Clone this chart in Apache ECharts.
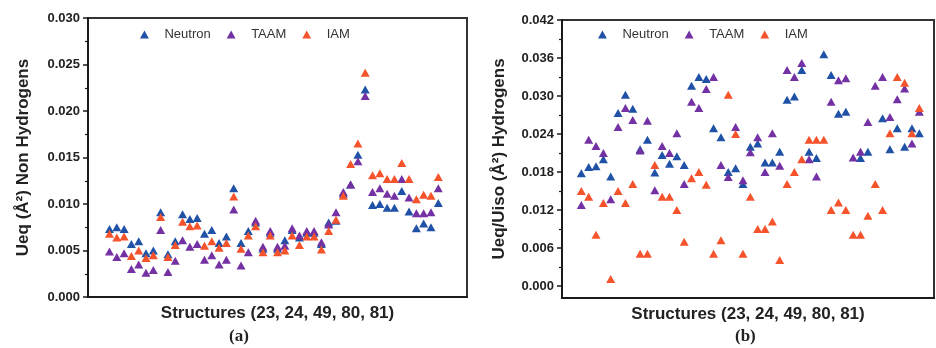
<!DOCTYPE html>
<html><head><meta charset="utf-8">
<script src="https://cdn.jsdelivr.net/npm/echarts@6/dist/echarts.min.js"></script>
<style>html,body{margin:0;padding:0;background:#fff}#c{width:936px;height:348px}</style>
</head><body><div id="c"></div>
<script>
// ---------- Panel (a): Non-hydrogen atoms ----------
const structuresA = [1,2,3,4,5,6,7,8,9,10,11,12,13,14,15,16,17,18,19,20,21,22,23,24,25,26,27,28,29,30,31,32,33,34,35,36,37,38,39,40,41,42,43,44,45,46];
const neutronA = [0.0073,0.0075,0.0073,0.0057,0.0060,0.0047,0.0050,0.0091,0.0046,0.0060,0.0089,0.0084,0.0085,0.0068,0.0072,0.0058,0.0065,0.0117,0.0058,0.0071,0.0080,0.0052,0.0069,0.0052,0.0061,0.0072,0.0064,0.0069,0.0069,0.0057,0.0080,0.0082,0.0111,0.0121,0.0153,0.0223,0.0099,0.0100,0.0096,0.0096,0.0114,0.0092,0.0074,0.0079,0.0075,0.0101];
const taamA = [0.0049,0.0043,0.0047,0.0030,0.0035,0.0026,0.0029,0.0072,0.0027,0.0039,0.0061,0.0054,0.0057,0.0040,0.0045,0.0035,0.0040,0.0094,0.0034,0.0048,0.0082,0.0054,0.0071,0.0054,0.0055,0.0074,0.0066,0.0071,0.0071,0.0059,0.0078,0.0091,0.0113,0.0121,0.0146,0.0216,0.0113,0.0117,0.0111,0.0109,0.0127,0.0107,0.0090,0.0090,0.0091,0.0117];
const iamA = [0.0068,0.0064,0.0065,0.0044,0.0050,0.0042,0.0045,0.0086,0.0043,0.0056,0.0081,0.0076,0.0077,0.0055,0.0060,0.0053,0.0058,0.0108,0.0052,0.0066,0.0076,0.0048,0.0066,0.0048,0.0050,0.0066,0.0056,0.0065,0.0065,0.0051,0.0071,0.0083,0.0109,0.0143,0.0165,0.0241,0.0131,0.0133,0.0127,0.0127,0.0144,0.0127,0.0105,0.0110,0.0109,0.0129];

// ---------- Panel (b): Hydrogen atoms ----------
const structuresB = [1,2,3,4,5,6,7,8,9,10,11,12,13,14,15,16,17,18,19,20,21,22,23,24,25,26,27,28,29,30,31,32,33,34,35,36,37,38,39,40,41,42,43,44,45,46,47];
const neutronB = [0.0178,0.0188,0.0189,0.0200,0.0173,0.0273,0.0302,0.0280,0.0216,0.0231,0.0179,0.0207,0.0193,0.0205,0.0191,0.0316,0.0330,0.0327,0.0249,0.0235,0.0180,0.0186,0.0161,0.0220,0.0225,0.0195,0.0195,0.0212,0.0294,0.0299,0.0341,0.0212,0.0202,0.0366,0.0333,0.0272,0.0275,null,0.0202,0.0212,null,0.0265,0.0216,0.0249,0.0220,0.0249,0.0241];
const taamB = [0.0128,0.0231,0.0221,0.0210,0.0137,0.0251,0.0281,0.0262,0.0214,0.0261,0.0151,0.0221,0.0210,0.0241,0.0161,0.0291,0.0281,0.0311,0.0330,0.0191,0.0172,0.0251,0.0167,0.0211,0.0235,0.0180,0.0241,0.0190,0.0341,0.0330,0.0352,0.0200,0.0173,null,0.0291,0.0325,0.0328,0.0203,0.0212,0.0259,0.0316,0.0330,0.0267,0.0295,0.0312,0.0225,0.0275];
const iamB = [0.0150,0.0141,0.0081,0.0131,0.0011,0.0150,0.0131,0.0161,0.0051,0.0051,0.0191,0.0141,0.0141,0.0120,0.0070,0.0170,0.0180,0.0160,0.0051,0.0072,0.0302,0.0240,0.0051,0.0141,0.0090,0.0090,0.0102,0.0041,0.0161,0.0180,0.0200,0.0231,0.0231,0.0231,0.0120,0.0132,0.0120,0.0081,0.0081,0.0111,0.0161,0.0120,0.0241,0.0330,0.0321,0.0241,0.0281];

// ---------- Axis ticks ----------
const ticksB = [0, 0.006, 0.012, 0.018, 0.024, 0.030, 0.036, 0.042];
const minorTicksB = [0.003, 0.009, 0.015, 0.021, 0.027, 0.033, 0.039];

const seriesNames = ['Neutron', 'TAAM', 'IAM'];
const colors = { Neutron: '#1f52a6', TAAM: '#7431a3', IAM: '#f5532b' };

const FONT = "'Liberation Sans', Arial, sans-serif";
const TXT = '#222';
const LINE = '#1a1a1a';

function pts(xs, ys) {
  const out = [];
  xs.forEach((x, i) => { if (ys[i] !== null) out.push([x, ys[i]]); });
  return out;
}
function sc(name, xi, yi, data) {
  return {
    name, type: 'scatter', xAxisIndex: xi, yAxisIndex: yi,
    symbol: 'triangle', symbolSize: [9, 8],
    itemStyle: { color: colors[name], opacity: 1 },
    emphasis: { disabled: true },
    data
  };
}
const triIcon = 'path://M5,0L10,9L0,9Z';
function legend(left) {
  return {
    left, top: 23, orient: 'horizontal',
    data: seriesNames, icon: triIcon, itemWidth: 30, itemHeight: 8, itemGap: 16,
    symbolKeepAspect: true,
    textStyle: { fontFamily: FONT, fontSize: 13, color: '#333' }
  };
}
const yLabel = { fontFamily: FONT, fontSize: 13, fontWeight: 'bold', color: TXT, margin: 8 };
const nameStyle = { fontFamily: FONT, fontSize: 17, fontWeight: 'bold', color: TXT };

const chart = echarts.init(document.getElementById('c'), null, { renderer: 'canvas' });
chart.setOption({
  animation: false,
  backgroundColor: '#fff',
  legend: [legend(135), legend(593)],
  grid: [
    { left: 88, top: 18, width: 379, height: 279, show: true, borderColor: '#333', borderWidth: 2, backgroundColor: 'transparent', z: 0 },
    { left: 562, top: 20, width: 372, height: 278, show: true, borderColor: '#333', borderWidth: 2, backgroundColor: 'transparent', z: 0 }
  ],
  xAxis: [
    { gridIndex: 0, type: 'value', min: -1.94, max: 49.93,
      axisLine: { show: true, onZero: false, lineStyle: { color: LINE, width: 2 } },
      axisTick: { show: false }, axisLabel: { show: false }, splitLine: { show: false },
      name: 'Structures (23, 24, 49, 80, 81)', nameLocation: 'middle', nameGap: 8, nameTextStyle: nameStyle },
    { gridIndex: 1, type: 'value', min: -1.63, max: 49,
      axisLine: { show: true, onZero: false, lineStyle: { color: LINE, width: 2 } },
      axisTick: { show: false }, axisLabel: { show: false }, splitLine: { show: false },
      name: 'Structures (23, 24, 49, 80, 81)', nameLocation: 'middle', nameGap: 8, nameTextStyle: nameStyle }
  ],
  yAxis: [
    { gridIndex: 0, type: 'value', min: 0, max: 0.030, interval: 0.005, position: 'left',
      axisLine: { show: true, onZero: false, lineStyle: { color: LINE, width: 2 } },
      axisTick: { show: true, inside: false, length: 5, lineStyle: { color: LINE, width: 1.5 } },
      minorTick: { show: true, splitNumber: 2, length: 3, lineStyle: { color: LINE, width: 1.2 } },
      splitLine: { show: false }, minorSplitLine: { show: false },
      axisLabel: Object.assign({ formatter: v => v.toFixed(3) }, yLabel),
      name: 'Ueq (Å²) Non Hydrogens', nameLocation: 'middle', nameGap: 56, nameTextStyle: nameStyle },
    { gridIndex: 1, type: 'value', min: -0.0019, max: 0.042, position: 'left',
      axisLine: { show: true, onZero: false, lineStyle: { color: LINE, width: 2 } },
      axisTick: { show: true, inside: false, length: 5, customValues: ticksB, lineStyle: { color: LINE, width: 1.5 } },
      splitLine: { show: false },
      axisLabel: Object.assign({ customValues: ticksB, formatter: v => v.toFixed(3) }, yLabel),
      name: 'Ueq/Uiso (Å²) Hydrogens', nameLocation: 'middle', nameGap: 54, nameTextStyle: nameStyle },
    { gridIndex: 1, type: 'value', min: -0.0019, max: 0.042, position: 'left', offset: 0,
      axisLine: { show: false, onZero: false },
      axisTick: { show: true, inside: false, length: 3, customValues: minorTicksB, lineStyle: { color: LINE, width: 1.2 } },
      axisLabel: { show: false }, splitLine: { show: false } }
  ],
  series: [
    sc('Neutron', 0, 0, pts(structuresA, neutronA)),
    sc('TAAM', 0, 0, pts(structuresA, taamA)),
    sc('IAM', 0, 0, pts(structuresA, iamA)),
    sc('Neutron', 1, 1, pts(structuresB, neutronB)),
    sc('TAAM', 1, 1, pts(structuresB, taamB)),
    sc('IAM', 1, 1, pts(structuresB, iamB))
  ],
  graphic: [
    { type: 'text', left: 229, top: 328, style: { text: '(a)', font: "bold 17px 'Liberation Serif', 'Times New Roman', serif", fill: TXT } },
    { type: 'text', left: 735, top: 328, style: { text: '(b)', font: "bold 17px 'Liberation Serif', 'Times New Roman', serif", fill: TXT } }
  ]
});
</script>
</body></html>
